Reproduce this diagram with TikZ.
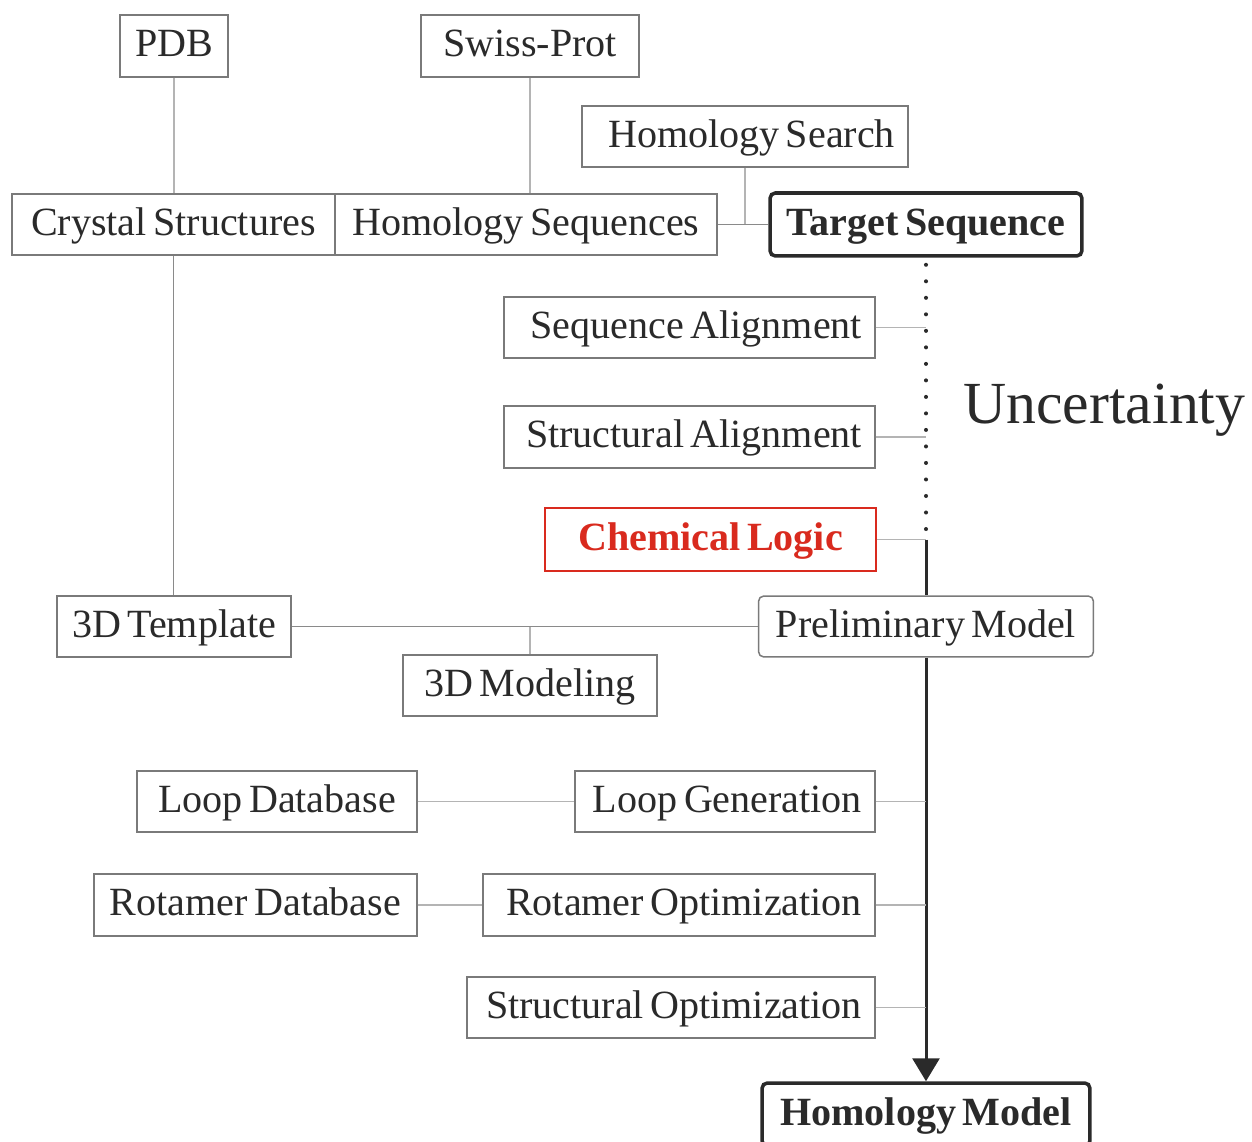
\documentclass[tikz,border=0pt]{standalone}
\usepackage{fontspec}
\setmainfont[WordSpace=0.65]{Liberation Serif}
\usetikzlibrary{arrows.meta}
\definecolor{bord}{HTML}{7A7A7A}
\definecolor{txt}{HTML}{2A2A2A}
\definecolor{lightln}{HTML}{B4B4B4}
\definecolor{midln}{HTML}{8A8A8A}
\definecolor{redc}{HTML}{D92A1E}
\newcommand\lbl{\fontsize{22.8pt}{26pt}\selectfont}
\newcommand\rjust[1]{\spaceskip=0pt\xspaceskip=0pt\hbox to \linewidth{\hss #1}}
\tikzset{
  box/.style={draw=bord, line width=0.85pt, fill=white, text=txt, font=\lbl,
    inner sep=0pt, text height=17pt, text depth=5pt, align=center},
  wh/.style 2 args={minimum width=#1, minimum height=#2},
  rtext/.style={align=right, text width=#1},
  heavy/.style={draw=txt, line width=2pt, rounded corners=3pt, font=\lbl\bfseries},
  thinln/.style={draw=lightln, line width=0.6pt},
  midlink/.style={draw=midln, line width=1.1pt},
  spine/.style={draw=txt, line width=1.7pt},
}
\begin{document}
\begin{tikzpicture}[x=0.02cm,y=-0.02cm]
\useasboundingbox (0,0) rectangle (1252,1142);
% nodes
\node[box, wh={2.16cm}{1.24cm}] (pdb) at (174,46) {PDB};
\node[box, wh={4.36cm}{1.24cm}] (swiss) at (530,46) {Swiss-Prot};
\node[box, wh={6.52cm}{1.22cm}, rtext=6.0cm] (hsearch) at (745,136.5) {\rjust{Homology Search}};
\node[box, wh={6.46cm}{1.22cm}] (cryst) at (173.5,224.5) {Crystal Structures};
\node[box, wh={7.64cm}{1.22cm}] (hseq) at (526,224.5) {Homology Sequences};
\node[box, heavy, wh={6.24cm}{1.26cm}] (target) at (926,224.5) {Target Sequence};
\node[box, wh={7.42cm}{1.22cm}, rtext=6.9cm] (seqal) at (689.5,327.5) {\rjust{Sequence Alignment}};
\node[box, wh={7.42cm}{1.24cm}, rtext=6.9cm] (stral) at (689.5,437) {\rjust{Structural Alignment}};
\node[box, draw=redc, text=redc, line width=1.6pt, font=\lbl\bfseries, wh={6.62cm}{1.26cm}] (chem) at (710.5,539.5) {Chemical Logic};
\node[box, wh={4.68cm}{1.22cm}] (templ) at (174,626.5) {3D Template};
\node[box, rounded corners=3pt, wh={6.70cm}{1.22cm}] (prelim) at (926,626.5) {Preliminary Model};
\node[box, wh={5.08cm}{1.22cm}] (model3d) at (530,685.5) {3D Modeling};
\node[box, wh={5.60cm}{1.22cm}] (loopdb) at (277,801.5) {Loop Database};
\node[box, wh={6.00cm}{1.22cm}, rtext=5.48cm] (loopgen) at (725,801.5) {\rjust{Loop Generation}};
\node[box, wh={6.46cm}{1.24cm}] (rotdb) at (255.5,905) {Rotamer Database};
\node[box, wh={7.84cm}{1.24cm}, rtext=7.32cm] (rotopt) at (679,905) {\rjust{Rotamer Optimization}};
\node[box, wh={8.16cm}{1.22cm}, rtext=7.64cm] (stropt) at (671,1007.5) {\rjust{Structural Optimization}};
\node[box, heavy, wh={6.56cm}{1.26cm}] (hmodel) at (926,1114.5) {Homology Model};
\node[text=txt, font=\fontsize{34pt}{40pt}\selectfont, anchor=base west, inner sep=0pt] (unc) at (963,423) {Uncertainty};
% connectors
\draw[thinln] (pdb.south) -- (cryst.north -| pdb.south);
\draw[thinln] (swiss.south) -- (hseq.north -| swiss.south);
\coordinate (j1) at (hsearch.south |- target.west);
\draw[thinln] (hsearch.south) -- (j1);
\draw[midlink] (hseq.east) -- (target.west);
\draw[midlink] (cryst.south) -- (templ.north -| cryst.south);
\draw[midlink] (templ.east) -- (prelim.west);
\coordinate (j2) at (model3d.north |- templ.east);
\draw[thinln] (model3d.north) -- (j2);
\coordinate (s1) at (target.south |- chem.east);
\draw[draw=txt, line width=2.3pt, line cap=round, dash pattern=on 0pt off 9.4pt] ([yshift=-4pt]target.south) -- (s1);
\draw[thinln] (seqal.east) -- (target.south |- seqal.east);
\draw[thinln] (stral.east) -- (target.south |- stral.east);
\draw[thinln] (chem.east) -- (s1);
\draw[spine] (s1) -- (prelim.north);
\draw[spine, -{Triangle[length=0.46cm, width=0.54cm]}] (prelim.south) -- (hmodel.north);
\draw[thinln] (loopdb.east) -- (loopgen.west);
\draw[thinln] (loopgen.east) -- (prelim.south |- loopgen.east);
\draw[thinln] (rotdb.east) -- (rotopt.west);
\draw[thinln] (rotopt.east) -- (prelim.south |- rotopt.east);
\draw[thinln] (stropt.east) -- (prelim.south |- stropt.east);
\end{tikzpicture}
\end{document}
